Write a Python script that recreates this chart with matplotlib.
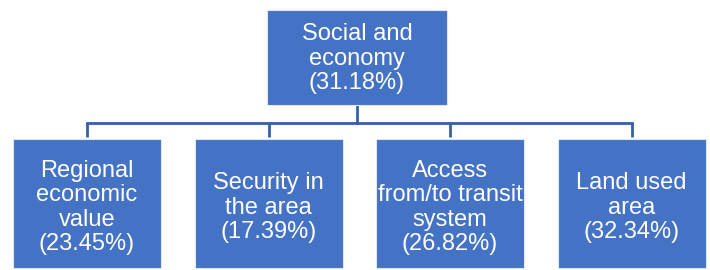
import matplotlib

matplotlib.use("Agg")
import matplotlib.pyplot as plt
from matplotlib.patches import Rectangle

# -- data ---------------------------------------------------------------
ROOT_LABEL = "Social and\neconomy"
ROOT_SHARE = 31.18
CHILD_LABELS = [
    "Regional\neconomic\nvalue",
    "Security in\nthe area",
    "Access\nfrom/to transit\nsystem",
    "Land used\narea",
]
CHILD_SHARES = [23.45, 17.39, 26.82, 32.34]

FILL = "#4472C4"
LINE = "#3460A6"

W, H = 710, 270
fig = plt.figure(figsize=(W / 100, H / 100), dpi=100)
ax = fig.add_axes([0, 0, 1, 1])
ax.set_xlim(0, W)
ax.set_ylim(H, 0)
ax.axis("off")

FONT = dict(family="Liberation Sans", fontsize=17, color="white",
            ha="center", va="center", linespacing=1.15)


def box(x0, y0, w, h, text, dy):
    ax.add_patch(Rectangle((x0, y0), w, h, facecolor=FILL,
                           edgecolor="#dfe6f3", linewidth=0.8, zorder=2))
    ax.text(x0 + w / 2, y0 + h / 2 + dy, text, zorder=3, **FONT)


# root
root_x, root_y, root_w, root_h = 267, 10, 180, 95
box(root_x, root_y, root_w, root_h, f"{ROOT_LABEL}\n({ROOT_SHARE:.2f}%)", 1)

# children
child_w, gap, child_y, child_h = 148, 33.5, 139, 129
x_start = 13
bar_y = 123
centers = []
for i, (label, share) in enumerate(zip(CHILD_LABELS, CHILD_SHARES)):
    x0 = x_start + i * (child_w + gap)
    box(x0, child_y, child_w, child_h, f"{label}\n({share:.2f}%)", 4)
    cx = x0 + child_w / 2
    centers.append(cx)
    ax.plot([cx, cx], [bar_y, child_y - 2], color=LINE, lw=2, zorder=1,
            solid_capstyle="butt")

ax.plot([centers[0], centers[-1]], [bar_y, bar_y], color=LINE, lw=2,
        zorder=1, solid_capstyle="projecting")
rc = root_x + root_w / 2
ax.plot([rc, rc], [root_y + root_h, bar_y], color=LINE, lw=2, zorder=1)

fig.savefig("out.png", dpi=100, facecolor="white")
